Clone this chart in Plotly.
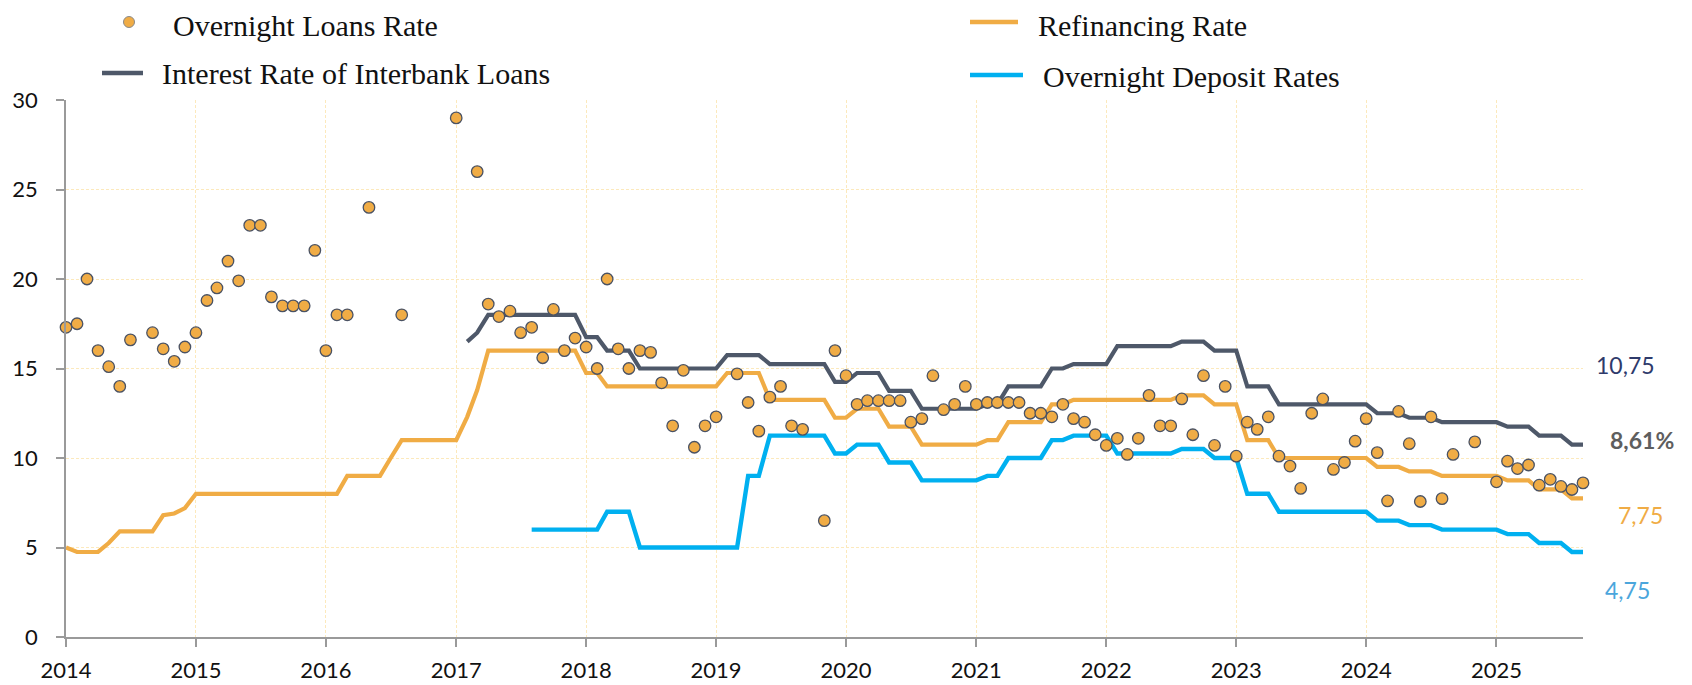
import pandas as pd
import plotly.graph_objects as go

N = None
months = pd.date_range("2014-01-01", "2025-09-01", freq="MS")

overnight_loans = [
    17.3, 17.5, 20.0, 16.0, 15.1, 14.0, 16.6, N, 17.0, 16.1, 15.4, 16.2,      # 2014
    17.0, 18.8, 19.5, 21.0, 19.9, 23.0, 23.0, 19.0, 18.5, 18.5, 18.5, 21.6,   # 2015
    16.0, 18.0, 18.0, N, 24.0, N, N, 18.0, N, N, N, N,                         # 2016
    29.0, N, 26.0, 18.6, 17.9, 18.2, 17.0, 17.3, 15.6, 18.3, 16.0, 16.7,      # 2017
    16.2, 15.0, 20.0, 16.1, 15.0, 16.0, 15.9, 14.2, 11.8, 14.9, 10.6, 11.8,   # 2018
    12.3, N, 14.7, 13.1, 11.5, 13.4, 14.0, 11.8, 11.6, N, 6.5, 16.0,          # 2019
    14.6, 13.0, 13.2, 13.2, 13.2, 13.2, 12.0, 12.2, 14.6, 12.7, 13.0, 14.0,   # 2020
    13.0, 13.1, 13.1, 13.1, 13.1, 12.5, 12.5, 12.3, 13.0, 12.2, 12.0, 11.3,   # 2021
    10.7, 11.1, 10.2, 11.1, 13.5, 11.8, 11.8, 13.3, 11.3, 14.6, 10.7, 14.0,   # 2022
    10.1, 12.0, 11.6, 12.3, 10.1, 9.55, 8.3, 12.5, 13.3, 9.36, 9.75, 10.94,   # 2023
    12.2, 10.3, 7.6, 12.6, 10.8, 7.57, 12.3, 7.73, 10.2, N, 10.9, N,          # 2024
    8.67, 9.82, 9.41, 9.61, 8.48, 8.81, 8.41, 8.24, 8.61,                     # 2025
]

refinancing = [
    5.0, 4.75, 4.75, 4.75, 5.25, 5.9, 5.9, 5.9, 5.9, 6.8, 6.9, 7.2,
    8, 8, 8, 8, 8, 8, 8, 8, 8, 8, 8, 8,
    8, 8, 9, 9, 9, 9, 10, 11, 11, 11, 11, 11,
    11, 12.3, 13.8, 16, 16, 16, 16, 16, 16, 16, 16, 16,
    14.75, 14.75, 14, 14, 14, 14, 14, 14, 14, 14, 14, 14,
    14, 14.75, 14.75, 14.75, 14.75, 13.25, 13.25, 13.25, 13.25, 13.25, 13.25, 12.25,
    12.25, 12.75, 12.75, 12.75, 11.75, 11.75, 11.75, 10.75, 10.75, 10.75, 10.75, 10.75,
    10.75, 11, 11, 12, 12, 12, 12, 13, 13, 13.25, 13.25, 13.25,
    13.25, 13.25, 13.25, 13.25, 13.25, 13.25, 13.25, 13.5, 13.5, 13.5, 13, 13,
    13, 11, 11, 11, 10, 10, 10, 10, 10, 10, 10, 10,
    10, 9.5, 9.5, 9.5, 9.25, 9.25, 9.25, 9, 9, 9, 9, 9,
    9, 8.75, 8.75, 8.75, 8.25, 8.25, 8.25, 7.75, 7.75,
]

interbank = [N] * 37 + [
    16.5, 17, 18, 18, 18, 18, 18, 18, 18, 18, 18,
    16.75, 16.75, 16, 16, 16, 15, 15, 15, 15, 15, 15, 15,
    15, 15.75, 15.75, 15.75, 15.75, 15.25, 15.25, 15.25, 15.25, 15.25, 15.25, 14.25,
    14.25, 14.75, 14.75, 14.75, 13.75, 13.75, 13.75, 12.75, 12.75, 12.75, 12.75, 12.75,
    12.75, 13, 13, 14, 14, 14, 14, 15, 15, 15.25, 15.25, 15.25,
    15.25, 16.25, 16.25, 16.25, 16.25, 16.25, 16.25, 16.5, 16.5, 16.5, 16, 16,
    16, 14, 14, 14, 13, 13, 13, 13, 13, 13, 13, 13,
    13, 12.5, 12.5, 12.5, 12.25, 12.25, 12.25, 12, 12, 12, 12, 12,
    12, 11.75, 11.75, 11.75, 11.25, 11.25, 11.25, 10.75, 10.75,
]

deposit = [N] * 43 + [
    6, 6, 6, 6, 6,
    6, 6, 7, 7, 7, 5, 5, 5, 5, 5, 5, 5,
    5, 5, 5, 9, 9, 11.25, 11.25, 11.25, 11.25, 11.25, 11.25, 10.25,
    10.25, 10.75, 10.75, 10.75, 9.75, 9.75, 9.75, 8.75, 8.75, 8.75, 8.75, 8.75,
    8.75, 9, 9, 10, 10, 10, 10, 11, 11, 11.25, 11.25, 11.25,
    11.25, 10.25, 10.25, 10.25, 10.25, 10.25, 10.25, 10.5, 10.5, 10.5, 10, 10,
    10, 8, 8, 8, 7, 7, 7, 7, 7, 7, 7, 7,
    7, 6.5, 6.5, 6.5, 6.25, 6.25, 6.25, 6, 6, 6, 6, 6,
    6, 5.75, 5.75, 5.75, 5.25, 5.25, 5.25, 4.75, 4.75,
]

series_names = ["Overnight Loans Rate", "Interest Rate of Interbank Loans",
                "Refinancing Rate", "Overnight Deposit Rates"]
end_labels = ["10,75", "8,61%", "7,75", "4,75"]
y_ticks = [0, 5, 10, 15, 20, 25, 30]

ORANGE = "#F0AC45"
DARK = "#4E5869"
BLUE = "#00B0F0"
GRID = "#FCE9BC"
AXIS = "#9A9A9A"

# the page body has an 8px default margin, so the figure is drawn 8px in
OFF = 8
W, H = 1692 - OFF, 685 - OFF
# plot area in page pixels: left 66, right 1583, top 100, bottom 637
PL, PR, PT, PB = 66, 1583, 100, 637
ML, MT = PL - OFF, PT - OFF
MR, MB = W - (PR - OFF), H - (PB - OFF)
PW, PH = PR - PL, PB - PT


def px(xp):
    """page x pixel -> paper x"""
    return (xp - PL) / PW


def py(yp):
    """page y pixel -> paper y"""
    return (PB - yp) / PH


fig = go.Figure()
fig.add_trace(go.Scatter(x=months, y=refinancing, mode="lines", name=series_names[2],
                         line=dict(color=ORANGE, width=4.2), showlegend=False, cliponaxis=False))
fig.add_trace(go.Scatter(x=months, y=interbank, mode="lines", name=series_names[1],
                         line=dict(color=DARK, width=4.2), showlegend=False, cliponaxis=False))
fig.add_trace(go.Scatter(x=months, y=deposit, mode="lines", name=series_names[3],
                         line=dict(color=BLUE, width=4.4), showlegend=False, cliponaxis=False))
fig.add_trace(go.Scatter(x=months, y=overnight_loans, mode="markers", name=series_names[0],
                         marker=dict(color=ORANGE, size=11.5, line=dict(color="#4A5263", width=1.3)),
                         showlegend=False, cliponaxis=False))

shapes = []
annotations = []
legend_font = dict(family="Liberation Serif", size=30, color="#111111")
ROW1, ROW2L, ROW2R = 25, 74, 76

# legend entry: overnight loans (marker)
shapes.append(dict(type="circle", xref="paper", yref="paper", xsizemode="pixel", ysizemode="pixel",
                   xanchor=px(129), yanchor=py(ROW1 - 3), x0=-5.5, x1=5.5, y0=-5.5, y1=5.5,
                   fillcolor=ORANGE, line=dict(color="#8A8A8A", width=1)))
annotations.append(dict(text=series_names[0], x=px(171), y=py(ROW1), xref="paper", yref="paper",
                        xanchor="left", yanchor="middle", showarrow=False, font=legend_font))
# interbank
shapes.append(dict(type="line", xref="paper", yref="paper", x0=px(102), x1=px(143),
                   y0=py(ROW2L - 1), y1=py(ROW2L - 1), line=dict(color=DARK, width=4.5)))
annotations.append(dict(text=series_names[1], x=px(160), y=py(ROW2L), xref="paper", yref="paper",
                        xanchor="left", yanchor="middle", showarrow=False, font=legend_font))
# refinancing
shapes.append(dict(type="line", xref="paper", yref="paper", x0=px(970), x1=px(1018),
                   y0=py(ROW1 - 3), y1=py(ROW1 - 3), line=dict(color=ORANGE, width=4.5)))
annotations.append(dict(text=series_names[2], x=px(1036), y=py(ROW1), xref="paper", yref="paper",
                        xanchor="left", yanchor="middle", showarrow=False, font=legend_font))
# deposit
shapes.append(dict(type="line", xref="paper", yref="paper", x0=px(970), x1=px(1023),
                   y0=py(ROW2R - 1), y1=py(ROW2R - 1), line=dict(color=BLUE, width=4.5)))
annotations.append(dict(text=series_names[3], x=px(1041), y=py(ROW2R), xref="paper", yref="paper",
                        xanchor="left", yanchor="middle", showarrow=False, font=legend_font))

# end labels
end_specs = [
    (end_labels[0], 1625, 365, "#2E3A6B", False),
    (end_labels[1], 1642, 440, "#5E5E5E", True),
    (end_labels[2], 1640, 515, "#F0AC45", False),
    (end_labels[3], 1627, 590, "#4BA6DC", False),
]
for txt, xx, yy, col, bold in end_specs:
    annotations.append(dict(text=f"<b>{txt}</b>" if bold else txt, x=px(xx), y=py(yy),
                            xref="paper", yref="paper", xanchor="center", yanchor="middle",
                            showarrow=False, font=dict(family="Lato", size=23, color=col)))

fig.update_layout(
    template="none",
    width=W, height=H,
    margin=dict(l=ML, r=MR, t=MT, b=MB),
    paper_bgcolor="white", plot_bgcolor="white",
    showlegend=False,
    shapes=shapes,
    annotations=annotations,
    font=dict(family="Lato", size=22, color="#111111"),
)
fig.update_xaxes(
    type="date", range=["2014-01-01", "2025-09-01"],
    tick0="2014-01-01", dtick="M12", tickformat="%Y",
    showgrid=True, gridcolor=GRID, gridwidth=1, griddash="3px,2px",
    showline=True, linecolor=AXIS, linewidth=1.5,
    ticks="outside", ticklen=8, tickcolor=AXIS, tickwidth=1.5,
    tickfont=dict(family="Lato", size=22, color="#111111"),
    ticklabelstandoff=5,
    automargin=False, zeroline=False,
)
fig.update_yaxes(
    range=[0, 30], tickvals=y_ticks,
    showgrid=True, gridcolor=GRID, gridwidth=1, griddash="3px,2px",
    showline=True, linecolor=AXIS, linewidth=1.5,
    ticks="outside", ticklen=8, tickcolor=AXIS, tickwidth=1.5,
    tickfont=dict(family="Lato", size=22, color="#111111"),
    ticklabelstandoff=14,
    automargin=False, zeroline=False,
)

fig.write_html("out.html")
